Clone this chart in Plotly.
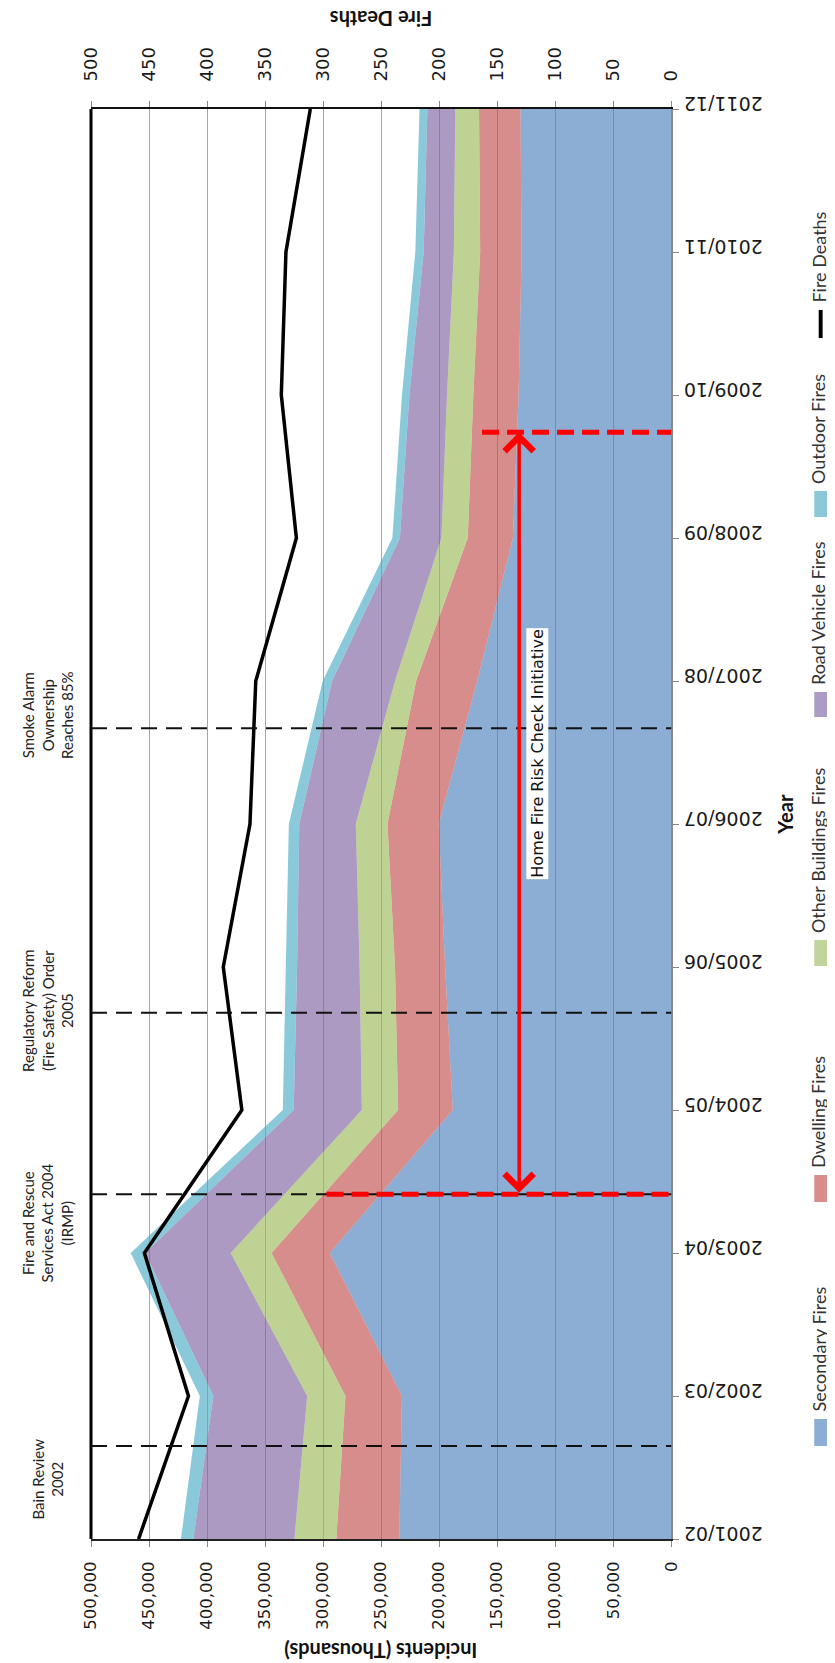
import plotly.graph_objects as go

# ---------------- data ----------------
years = ["2001/02", "2002/03", "2003/04", "2004/05", "2005/06", "2006/07",
         "2007/08", "2008/09", "2009/10", "2010/11", "2011/12"]
secondary_fires = [234300, 232100, 294200, 188200, 194800, 200300, 167200, 136400, 131500, 128900, 129900]
dwelling_fires = [54300, 48600, 50200, 47100, 43200, 44200, 52600, 38900, 39000, 35700, 35700]
other_buildings_fires = [36100, 33000, 35200, 31300, 30500, 27300, 18200, 22700, 22700, 22700, 20400]
road_vehicle_fires = [87100, 80900, 73700, 58700, 53900, 48700, 54200, 35800, 32400, 26000, 24100]
outdoor_fires = [10700, 11600, 12500, 9400, 9700, 9000, 8100, 6500, 6400, 7200, 6800]
fire_deaths = [459, 416, 454, 370, 386, 363, 358, 323, 336, 332, 311]

incident_ticks = list(range(0, 500001, 50000))
death_ticks = list(range(0, 501, 50))

# events (position on the year axis, 0 = 2001/02)
event_positions = [0.65, 2.41, 3.68, 5.67]
event_label_positions = [0.42, 2.21, 3.69, 5.76]
event_labels = ["Bain Review<br>2002",
                "Fire and Rescue<br>Services Act 2004<br>(IRMP)",
                "Regulatory Reform<br>(Fire Safety) Order<br>2005",
                "Smoke Alarm<br>Ownership<br>Reaches 85%"]

hfrc_start, hfrc_end = 2.41, 7.74
hfrc_marker_reach = [297000, 163000]
hfrc_arrow_value = 131000
hfrc_label = "Home Fire Risk Check Initiative"
hfrc_label_value, hfrc_label_year = 115000, 5.49

series_names = ["Secondary Fires", "Dwelling Fires", "Other Buildings Fires",
                "Road Vehicle Fires", "Outdoor Fires"]
series_values = [secondary_fires, dwelling_fires, other_buildings_fires,
                 road_vehicle_fires, outdoor_fires]
series_colors = ["rgba(79,129,189,0.65)", "rgba(192,80,77,0.65)", "rgba(155,187,89,0.65)",
                 "rgba(128,100,162,0.65)", "rgba(75,172,198,0.65)"]
legend_colors = ["#8CADD4", "#D68D8B", "#C0D49C", "#AC9BC4", "#8CC8DA"]

# ---------------- layout geometry ----------------
W, H = 835, 1663
L, R, T, B = 83, 671, 101, 1531
MR = 0  # right page margin
PW = W - L - MR  # paper width in px


def px(x):
    return (x - L) / PW


def py(y):
    return (B - y) / (B - T)


pos = list(range(len(years)))

fig = go.Figure()
for name, vals, col in zip(series_names, series_values, series_colors):
    fig.add_trace(go.Scatter(x=vals, y=pos, name=name, mode="lines", stackgroup="inc",
                             orientation="h", fillcolor=col, line=dict(width=0, color=col),
                             showlegend=False, hoverinfo="skip"))

fig.add_trace(go.Scatter(x=fire_deaths, y=pos, name="Fire Deaths", mode="lines",
                         xaxis="x2", line=dict(color="black", width=3.5), showlegend=False))

xdom = [0, px(R)]
fig.update_layout(
    width=W, height=H, autosize=False,
    margin=dict(l=L, r=MR, t=T, b=H - B),
    paper_bgcolor="white", plot_bgcolor="white",
    showlegend=False,
    xaxis=dict(domain=xdom, range=[500000, 0], tickvals=incident_ticks, tickformat=",",
               tickangle=-90,
               tickfont=dict(family="DejaVu Sans", size=16.5, color="#1a1a1a"),
               showgrid=True, gridcolor="#A6A6A6", gridwidth=1.3,
               zeroline=False, showline=True, linecolor="#222", linewidth=2,
               ticks="outside", ticklen=6, tickcolor="#888", ticklabelstandoff=8),
    xaxis2=dict(domain=xdom, range=[500, 0], tickvals=death_ticks, tickangle=-90,
                overlaying="x", side="top",
                tickfont=dict(family="DejaVu Sans", size=18, color="#1a1a1a"),
                showgrid=False, zeroline=False,
                showline=True, linecolor="#111", linewidth=2, ticks="outside",
                ticklen=6, tickcolor="#888", ticklabelstandoff=16),
    yaxis=dict(range=[0, 10], tickvals=pos, ticktext=years, side="right", tickangle=180,
               tickfont=dict(family="DejaVu Sans", size=19, color="#1a1a1a"),
               showgrid=False, zeroline=False, showline=True, linecolor="#888",
               linewidth=1.5, ticks="outside", ticklen=6, tickcolor="#888",
               ticklabelstandoff=80),
)

shapes = []
# left border of plot area
shapes.append(dict(type="line", xref="x domain", yref="y domain", x0=0, x1=0, y0=0, y1=1,
                   line=dict(color="black", width=3), layer="above"))
# event lines
for ev in event_positions:
    shapes.append(dict(type="line", xref="x domain", yref="y", x0=0, x1=1, y0=ev, y1=ev,
                       line=dict(color="#111", width=2, dash="16px,9px"), layer="above"))
# home fire risk check markers
for yv, reach in zip([hfrc_start, hfrc_end], hfrc_marker_reach):
    shapes.append(dict(type="line", xref="x", yref="y", x0=reach, x1=0, y0=yv, y1=yv,
                       line=dict(color="#FF0000", width=5, dash="17px,8px"), layer="above"))

annotations = []
# double headed arrow
annotations.append(dict(x=hfrc_arrow_value, y=hfrc_end, ax=hfrc_arrow_value, ay=hfrc_start,
                        xref="x", yref="y", axref="x", ayref="y", text="",
                        showarrow=True, arrowhead=4, startarrowhead=4, arrowside="end+start",
                        arrowsize=1.6, startarrowsize=1.6, arrowwidth=3.5,
                        arrowcolor="#FF0000", standoff=0, startstandoff=0))
annotations.append(dict(x=hfrc_label_value, y=hfrc_label_year, xref="x", yref="y",
                        text=hfrc_label, showarrow=False, textangle=-90, bgcolor="white",
                        borderpad=1, font=dict(family="DejaVu Sans", size=16, color="#111")))

# event labels
for lab, yv in zip(event_labels, event_label_positions):
    annotations.append(dict(x=px(39), y=yv, xref="paper", yref="y", text=lab,
                            xanchor="center", yanchor="middle",
                            showarrow=False, textangle=-90, align="center",
                            font=dict(family="Lato", size=15, color="#222")))

# axis titles
xmid = px((L + R) / 2)
annotations.append(dict(x=xmid, y=py(1643), xref="paper", yref="paper", xanchor="center",
                        yanchor="middle", text="<b>Incidents (Thousands)</b>", showarrow=False,
                        textangle=180, font=dict(family="Lato", size=20, color="#111")))
annotations.append(dict(x=xmid, y=py(11), xref="paper", yref="paper", xanchor="center",
                        yanchor="middle", text="<b>Fire Deaths</b>", showarrow=False,
                        textangle=180, font=dict(family="Lato", size=20, color="#111")))
annotations.append(dict(x=px(786), y=py(806), xref="paper", yref="paper", xanchor="center",
                        yanchor="middle", text="<b>Year</b>", showarrow=False, textangle=-90,
                        font=dict(family="Lato", size=20, color="#111")))

# legend (rotated) : swatch bottom/top in px, reading bottom to top
legend_swatches = [(1438, 1411), (1194, 1167), (958, 932), (709, 684), (509, 483)]
legend_x = 823
legend_text_right = legend_x + 10
for name, col, (sb, st) in zip(series_names, legend_colors, legend_swatches):
    shapes.append(dict(type="rect", xref="paper", yref="paper", layer="above",
                       x0=px(legend_x - 7), x1=px(legend_x + 6), y0=py(sb), y1=py(st),
                       fillcolor=col, line=dict(width=0)))
    annotations.append(dict(x=px(legend_text_right), y=py(st - 5), xref="paper", yref="paper",
                            xanchor="right", yanchor="bottom", text=name, showarrow=False,
                            textangle=-90, font=dict(family="Lato", size=18, color="#333")))
shapes.append(dict(type="rect", xref="paper", yref="paper", layer="above",
                   x0=px(legend_x - 2.5), x1=px(legend_x + 1.5), y0=py(330), y1=py(302),
                   fillcolor="black", line=dict(width=0)))
annotations.append(dict(x=px(legend_text_right), y=py(297), xref="paper", yref="paper",
                        xanchor="right", yanchor="bottom", text="Fire Deaths", showarrow=False,
                        textangle=-90, font=dict(family="Lato", size=18, color="#333")))

fig.update_layout(shapes=shapes, annotations=annotations)
fig.write_html("out.html")
